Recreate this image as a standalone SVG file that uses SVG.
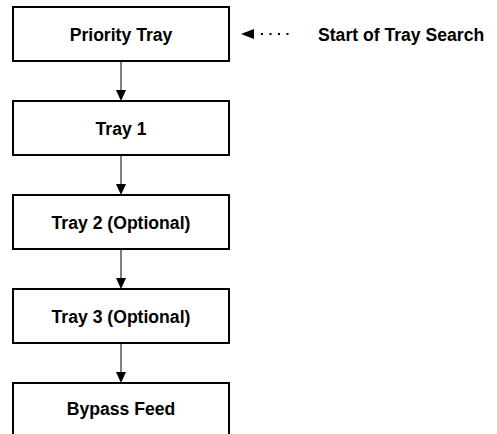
<svg xmlns="http://www.w3.org/2000/svg" width="497" height="434" viewBox="0 0 497 434">
<style>
.box{fill:#fff;stroke:#000;stroke-width:2}
.lbl{font-family:"Liberation Sans",Arial,sans-serif;font-weight:bold;font-size:17.6px;fill:#000}
.c{text-anchor:middle}
.edge{stroke:#000;stroke-width:1;fill:none}
.dash{stroke:#000;stroke-width:2;fill:none;stroke-dasharray:2 6.5}
.head{fill:#000}
</style>
<rect width="497" height="434" fill="#fff"/>
<g id="connectors">
<line class="edge" x1="121" y1="61" x2="121" y2="92"/>
<polygon class="head" points="116,90 126,90 121,101"/>
<line class="edge" x1="121" y1="155" x2="121" y2="186"/>
<polygon class="head" points="116,184 126,184 121,195"/>
<line class="edge" x1="121" y1="249" x2="121" y2="280"/>
<polygon class="head" points="116,278 126,278 121,289"/>
<line class="edge" x1="121" y1="343" x2="121" y2="374"/>
<polygon class="head" points="116,372 126,372 121,383"/>
<line class="dash" x1="261" y1="34" x2="292" y2="34"/>
<polygon class="head" points="241,34 254,29 254,39"/>
</g>
<g id="priority-tray">
<rect class="box" x="13" y="7" width="216" height="54"/>
<text class="lbl c" x="121" y="40.5">Priority Tray</text>
</g>
<g id="tray-1">
<rect class="box" x="13" y="101" width="216" height="54"/>
<text class="lbl c" x="121" y="134.5">Tray 1</text>
</g>
<g id="tray-2">
<rect class="box" x="13" y="195" width="216" height="54"/>
<text class="lbl c" x="121" y="228.5">Tray 2 (Optional)</text>
</g>
<g id="tray-3">
<rect class="box" x="13" y="289" width="216" height="54"/>
<text class="lbl c" x="121" y="322.5">Tray 3 (Optional)</text>
</g>
<g id="bypass-feed">
<rect class="box" x="13" y="383" width="216" height="60"/>
<text class="lbl c" x="121" y="415">Bypass Feed</text>
</g>
<g id="start-label">
<text class="lbl" x="318" y="40.5">Start of Tray Search</text>
</g>
</svg>
